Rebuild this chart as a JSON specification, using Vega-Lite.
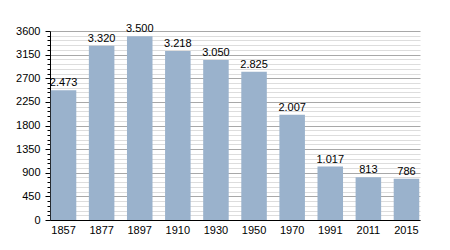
{
  "$schema": "https://vega.github.io/schema/vega-lite/v6.json",
  "width": 370,
  "height": 189,
  "autosize": {"type": "none"},
  "padding": {"left": 50, "top": 31, "right": 30, "bottom": 30},
  "background": "white",
  "config": {
    "view": {"stroke": null},
    "font": "Liberation Sans",
    "locale": {"number": {"decimal": ",", "thousands": ".", "grouping": [3], "currency": ["", ""]}}
  },
  "data": {
    "values": [
      {"year": "1857", "pop": 2473},
      {"year": "1877", "pop": 3320},
      {"year": "1897", "pop": 3500},
      {"year": "1910", "pop": 3218},
      {"year": "1930", "pop": 3050},
      {"year": "1950", "pop": 2825},
      {"year": "1970", "pop": 2007},
      {"year": "1991", "pop": 1017},
      {"year": "2011", "pop": 813},
      {"year": "2015", "pop": 786}
    ]
  },
  "encoding": {
    "x": {
      "field": "year", "type": "ordinal", "sort": null,
      "scale": {"paddingInner": 0.33, "paddingOuter": 0.02},
      "axis": {"title": null, "labelAngle": 0, "ticks": false, "domainColor": "#000", "domainWidth": 1, "labelFontSize": 11, "labelColor": "#000", "labelPadding": 4}
    },
    "y": {
      "field": "pop", "type": "quantitative",
      "scale": {"domain": [0, 3600], "nice": false},
      "axis": {
        "title": null,
        "values": [0,90,180,270,360,450,540,630,720,810,900,990,1080,1170,1260,1350,1440,1530,1620,1710,1800,1890,1980,2070,2160,2250,2340,2430,2520,2610,2700,2790,2880,2970,3060,3150,3240,3330,3420,3510,3600],
        "labelExpr": "datum.value % 450 === 0 ? format(datum.value, 'd') : ''",
        "gridColor": {"expr": "datum.value % 450 === 0 ? '#a8a8a8' : '#dddddd'"},
        "gridWidth": 1,
        "tickSize": {"expr": "datum.value % 450 === 0 ? 5 : 3"},
        "tickColor": "#000",
        "domainColor": "#000",
        "labelFontSize": 11,
        "labelColor": "#000",
        "labelPadding": 5
      }
    }
  },
  "layer": [
    {"mark": {"type": "bar", "color": "#9ab2cc"}},
    {
      "mark": {"type": "text", "baseline": "bottom", "dy": -2, "fontSize": 11, "color": "#000"},
      "encoding": {"text": {"field": "pop", "type": "quantitative", "format": ",d"}}
    }
  ]
}
